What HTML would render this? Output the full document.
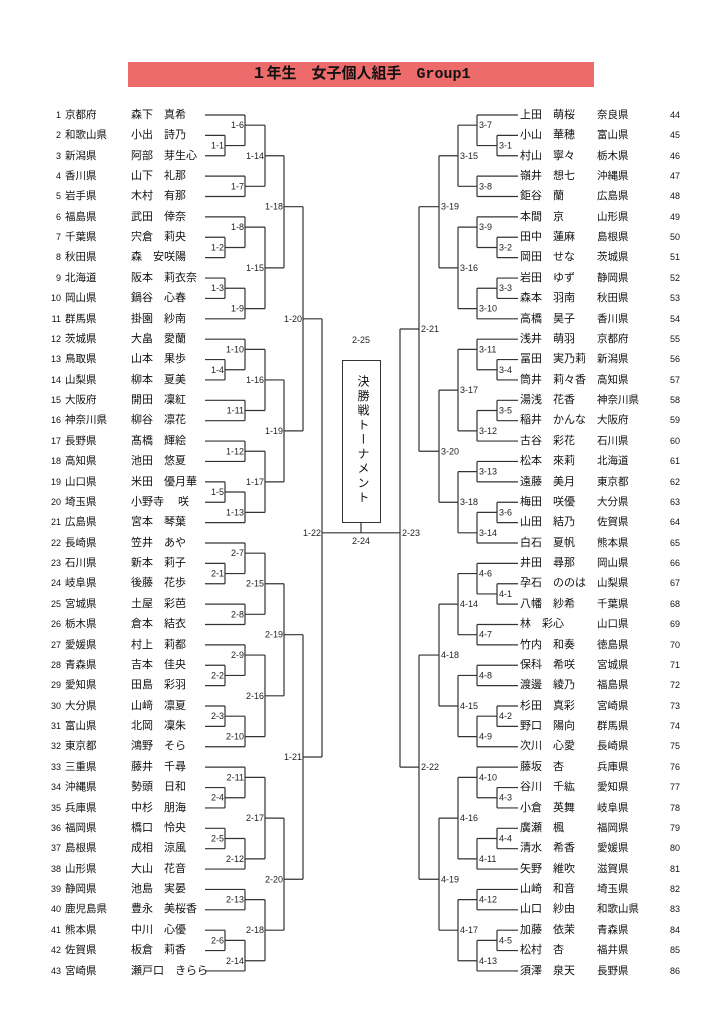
<!DOCTYPE html>
<html><head><meta charset="utf-8"><style>
body{margin:0;width:724px;height:1024px;background:#fff;position:relative;overflow:hidden;font-family:"Liberation Sans","Noto Sans CJK JP",sans-serif;color:#111}
#title{position:absolute;left:128px;top:62px;width:466px;height:25px;background:#ee6b6b;text-align:center;line-height:25px;font-weight:bold;font-size:15px;font-family:"Liberation Mono","Noto Sans CJK JP",monospace}
.col{position:absolute;left:0;top:104.8px;width:724px}
.r{position:relative;height:20.38px;line-height:20.38px;white-space:nowrap}
.r i{position:absolute;font-style:normal;font-size:9px;text-align:right}
.r b{position:absolute;font-weight:normal;font-size:10.5px}
.r u{position:absolute;text-decoration:none;font-size:11px}
.L i{left:0;width:61px}.L b{left:65px}.L u{left:131px}
.R i{left:600px;width:80px}.R b{left:597px}.R u{left:520px}
svg{position:absolute;left:0;top:0}
svg line{stroke:#333;stroke-width:1.2}
svg text{font-size:9px;fill:#222;font-family:"Liberation Sans",sans-serif}
#box{position:absolute;left:342px;top:360px;width:37px;height:161px;border:1.2px solid #333}
#box span{position:absolute;left:12px;top:14px;writing-mode:vertical-rl;font-size:12px;letter-spacing:2.5px}
</style></head><body>
<div id="title">１年生　女子個人組手　Group1</div>
<svg id="s" width="724" height="1024"><text x="361" y="343" text-anchor="middle">2-25</text><text x="361" y="544" text-anchor="middle">2-24</text></svg>
<div id="box"><span>決勝戦トーナメント</span></div>
<div class="col L">
<div class="r"><i>1</i><b>京都府</b><u>森下　真希</u></div>
<div class="r"><i>2</i><b>和歌山県</b><u>小出　詩乃</u></div>
<div class="r"><i>3</i><b>新潟県</b><u>阿部　芽生心</u></div>
<div class="r"><i>4</i><b>香川県</b><u>山下　礼那</u></div>
<div class="r"><i>5</i><b>岩手県</b><u>木村　有那</u></div>
<div class="r"><i>6</i><b>福島県</b><u>武田　倖奈</u></div>
<div class="r"><i>7</i><b>千葉県</b><u>宍倉　莉央</u></div>
<div class="r"><i>8</i><b>秋田県</b><u>森　安咲陽</u></div>
<div class="r"><i>9</i><b>北海道</b><u>阪本　莉衣奈</u></div>
<div class="r"><i>10</i><b>岡山県</b><u>鍋谷　心春</u></div>
<div class="r"><i>11</i><b>群馬県</b><u>掛園　紗南</u></div>
<div class="r"><i>12</i><b>茨城県</b><u>大畠　愛蘭</u></div>
<div class="r"><i>13</i><b>鳥取県</b><u>山本　果歩</u></div>
<div class="r"><i>14</i><b>山梨県</b><u>柳本　夏美</u></div>
<div class="r"><i>15</i><b>大阪府</b><u>開田　凜紅</u></div>
<div class="r"><i>16</i><b>神奈川県</b><u>柳谷　凛花</u></div>
<div class="r"><i>17</i><b>長野県</b><u>髙橋　輝絵</u></div>
<div class="r"><i>18</i><b>高知県</b><u>池田　悠夏</u></div>
<div class="r"><i>19</i><b>山口県</b><u>米田　優月華</u></div>
<div class="r"><i>20</i><b>埼玉県</b><u>小野寺　 咲</u></div>
<div class="r"><i>21</i><b>広島県</b><u>宮本　琴葉</u></div>
<div class="r"><i>22</i><b>長崎県</b><u>笠井　あや</u></div>
<div class="r"><i>23</i><b>石川県</b><u>新本　莉子</u></div>
<div class="r"><i>24</i><b>岐阜県</b><u>後藤　花歩</u></div>
<div class="r"><i>25</i><b>宮城県</b><u>土屋　彩芭</u></div>
<div class="r"><i>26</i><b>栃木県</b><u>倉本　結衣</u></div>
<div class="r"><i>27</i><b>愛媛県</b><u>村上　莉都</u></div>
<div class="r"><i>28</i><b>青森県</b><u>吉本　佳央</u></div>
<div class="r"><i>29</i><b>愛知県</b><u>田島　彩羽</u></div>
<div class="r"><i>30</i><b>大分県</b><u>山﨑　凛夏</u></div>
<div class="r"><i>31</i><b>富山県</b><u>北岡　凜朱</u></div>
<div class="r"><i>32</i><b>東京都</b><u>鴻野　そら</u></div>
<div class="r"><i>33</i><b>三重県</b><u>藤井　千尋</u></div>
<div class="r"><i>34</i><b>沖縄県</b><u>勢頭　日和</u></div>
<div class="r"><i>35</i><b>兵庫県</b><u>中杉　朋海</u></div>
<div class="r"><i>36</i><b>福岡県</b><u>橋口　怜央</u></div>
<div class="r"><i>37</i><b>島根県</b><u>成相　涼風</u></div>
<div class="r"><i>38</i><b>山形県</b><u>大山　花音</u></div>
<div class="r"><i>39</i><b>静岡県</b><u>池島　実晏</u></div>
<div class="r"><i>40</i><b>鹿児島県</b><u>豊永　美桜香</u></div>
<div class="r"><i>41</i><b>熊本県</b><u>中川　心優</u></div>
<div class="r"><i>42</i><b>佐賀県</b><u>板倉　莉香</u></div>
<div class="r"><i>43</i><b>宮崎県</b><u>瀬戸口　きらら</u></div>
</div>
<div class="col R">
<div class="r"><u>上田　萌桜</u><b>奈良県</b><i>44</i></div>
<div class="r"><u>小山　華穂</u><b>富山県</b><i>45</i></div>
<div class="r"><u>村山　寧々</u><b>栃木県</b><i>46</i></div>
<div class="r"><u>嶺井　想七</u><b>沖縄県</b><i>47</i></div>
<div class="r"><u>鉅谷　蘭</u><b>広島県</b><i>48</i></div>
<div class="r"><u>本間　京</u><b>山形県</b><i>49</i></div>
<div class="r"><u>田中　蓮麻</u><b>島根県</b><i>50</i></div>
<div class="r"><u>岡田　せな</u><b>茨城県</b><i>51</i></div>
<div class="r"><u>岩田　ゆず</u><b>静岡県</b><i>52</i></div>
<div class="r"><u>森本　羽南</u><b>秋田県</b><i>53</i></div>
<div class="r"><u>高橋　昊子</u><b>香川県</b><i>54</i></div>
<div class="r"><u>浅井　萌羽</u><b>京都府</b><i>55</i></div>
<div class="r"><u>冨田　実乃莉</u><b>新潟県</b><i>56</i></div>
<div class="r"><u>筒井　莉々香</u><b>高知県</b><i>57</i></div>
<div class="r"><u>湯浅　花香</u><b>神奈川県</b><i>58</i></div>
<div class="r"><u>稲井　かんな</u><b>大阪府</b><i>59</i></div>
<div class="r"><u>古谷　彩花</u><b>石川県</b><i>60</i></div>
<div class="r"><u>松本　來莉</u><b>北海道</b><i>61</i></div>
<div class="r"><u>遠藤　美月</u><b>東京都</b><i>62</i></div>
<div class="r"><u>梅田　咲優</u><b>大分県</b><i>63</i></div>
<div class="r"><u>山田　結乃</u><b>佐賀県</b><i>64</i></div>
<div class="r"><u>白石　夏帆</u><b>熊本県</b><i>65</i></div>
<div class="r"><u>井田　尋那</u><b>岡山県</b><i>66</i></div>
<div class="r"><u>孕石　ののは</u><b>山梨県</b><i>67</i></div>
<div class="r"><u>八幡　紗希</u><b>千葉県</b><i>68</i></div>
<div class="r"><u>林　彩心</u><b>山口県</b><i>69</i></div>
<div class="r"><u>竹内　和奏</u><b>徳島県</b><i>70</i></div>
<div class="r"><u>保科　希咲</u><b>宮城県</b><i>71</i></div>
<div class="r"><u>渡邊　綾乃</u><b>福島県</b><i>72</i></div>
<div class="r"><u>杉田　真彩</u><b>宮崎県</b><i>73</i></div>
<div class="r"><u>野口　陽向</u><b>群馬県</b><i>74</i></div>
<div class="r"><u>次川　心愛</u><b>長崎県</b><i>75</i></div>
<div class="r"><u>藤坂　杏</u><b>兵庫県</b><i>76</i></div>
<div class="r"><u>谷川　千紘</u><b>愛知県</b><i>77</i></div>
<div class="r"><u>小倉　英舞</u><b>岐阜県</b><i>78</i></div>
<div class="r"><u>廣瀬　楓</u><b>福岡県</b><i>79</i></div>
<div class="r"><u>清水　希香</u><b>愛媛県</b><i>80</i></div>
<div class="r"><u>矢野　維吹</u><b>滋賀県</b><i>81</i></div>
<div class="r"><u>山崎　和音</u><b>埼玉県</b><i>82</i></div>
<div class="r"><u>山口　紗由</u><b>和歌山県</b><i>83</i></div>
<div class="r"><u>加藤　依茉</u><b>青森県</b><i>84</i></div>
<div class="r"><u>松村　杏</u><b>福井県</b><i>85</i></div>
<div class="r"><u>須澤　泉天</u><b>長野県</b><i>86</i></div>
</div>
<script>
var P=20.38,Y=function(r){return 115+P*(r-1)};var s='';
function L(a,b,c,d){s+='<line x1="'+a+'" y1="'+b+'" x2="'+c+'" y2="'+d+'"/>';}
function T(x,y,t,an){s+='<text x="'+x+'" y="'+(y+3)+'" text-anchor="'+an+'">'+t+'</text>';}
function lf(r){return{x:205,r:r}} function rf(r){return{x:518,r:r}}
function lp(a,b,x,t,r){L(a.x,Y(a.r),x,Y(a.r));L(b.x,Y(b.r),x,Y(b.r));L(x,Y(a.r),x,Y(b.r));T(x-1,Y(r),t,'end');return{x:x,r:r}}
function rp(a,b,x,t,r){L(a.x,Y(a.r),x,Y(a.r));L(b.x,Y(b.r),x,Y(b.r));L(x,Y(a.r),x,Y(b.r));T(x+2,Y(r),t,'start');return{x:x,r:r}}
// left block1
var a=lp(lf(2),lf(3),225,'1-1',2.5);var b=lp(lf(1),a,245,'1-6',1.5);var c=lp(lf(4),lf(5),245,'1-7',4.5);var k14=lp(b,c,265,'1-14',3);
a=lp(lf(7),lf(8),225,'1-2',7.5);b=lp(lf(6),a,245,'1-8',6.5);a=lp(lf(9),lf(10),225,'1-3',9.5);c=lp(a,lf(11),245,'1-9',10.5);var k15=lp(b,c,265,'1-15',8.5);
var k18=lp(k14,k15,284,'1-18',5.5);
// block2
a=lp(lf(13),lf(14),225,'1-4',13.5);b=lp(lf(12),a,245,'1-10',12.5);c=lp(lf(15),lf(16),245,'1-11',15.5);var k16=lp(b,c,265,'1-16',14);
b=lp(lf(17),lf(18),245,'1-12',17.5);a=lp(lf(19),lf(20),225,'1-5',19.5);c=lp(a,lf(21),245,'1-13',20.5);var k17=lp(b,c,265,'1-17',19);
var k19=lp(k16,k17,284,'1-19',16.5);
var k20=lp(k18,k19,303,'1-20',11);
// block3
a=lp(lf(23),lf(24),225,'2-1',23.5);b=lp(lf(22),a,245,'2-7',22.5);c=lp(lf(25),lf(26),245,'2-8',25.5);var m15=lp(b,c,265,'2-15',24);
a=lp(lf(28),lf(29),225,'2-2',28.5);b=lp(lf(27),a,245,'2-9',27.5);a=lp(lf(30),lf(31),225,'2-3',30.5);c=lp(a,lf(32),245,'2-10',31.5);var m16=lp(b,c,265,'2-16',29.5);
var m19=lp(m15,m16,284,'2-19',26.5);
// block4
a=lp(lf(34),lf(35),225,'2-4',34.5);b=lp(lf(33),a,245,'2-11',33.5);a=lp(lf(36),lf(37),225,'2-5',36.5);c=lp(a,lf(38),245,'2-12',37.5);var m17=lp(b,c,265,'2-17',35.5);
b=lp(lf(39),lf(40),245,'2-13',39.5);a=lp(lf(41),lf(42),225,'2-6',41.5);c=lp(a,lf(43),245,'2-14',42.5);var m18=lp(b,c,265,'2-18',41);
var m20=lp(m17,m18,284,'2-20',38.5);
var k21=lp(m19,m20,303,'1-21',32.5);
L(303,Y(11),322,Y(11));L(303,Y(32.5),322,Y(32.5));L(322,Y(11),322,Y(32.5));T(321,Y(21.5),'1-22','end');
// right block1
a=rp(rf(2),rf(3),497,'3-1',2.5);b=rp(rf(1),a,477,'3-7',1.5);c=rp(rf(4),rf(5),477,'3-8',4.5);var r15=rp(b,c,458,'3-15',3);
a=rp(rf(7),rf(8),497,'3-2',7.5);b=rp(rf(6),a,477,'3-9',6.5);a=rp(rf(9),rf(10),497,'3-3',9.5);c=rp(a,rf(11),477,'3-10',10.5);var r16=rp(b,c,458,'3-16',8.5);
var r19=rp(r15,r16,439,'3-19',5.5);
// block2
a=rp(rf(13),rf(14),497,'3-4',13.5);b=rp(rf(12),a,477,'3-11',12.5);a=rp(rf(15),rf(16),497,'3-5',15.5);c=rp(a,rf(17),477,'3-12',16.5);var r17=rp(b,c,458,'3-17',14.5);
b=rp(rf(18),rf(19),477,'3-13',18.5);a=rp(rf(20),rf(21),497,'3-6',20.5);c=rp(a,rf(22),477,'3-14',21.5);var r18=rp(b,c,458,'3-18',20);
var r20=rp(r17,r18,439,'3-20',17.5);
var q21=rp(r19,r20,419,'2-21',11.5);
// block3
a=rp(rf(24),rf(25),497,'4-1',24.5);b=rp(rf(23),a,477,'4-6',23.5);c=rp(rf(26),rf(27),477,'4-7',26.5);var s14=rp(b,c,458,'4-14',25);
b=rp(rf(28),rf(29),477,'4-8',28.5);a=rp(rf(30),rf(31),497,'4-2',30.5);c=rp(a,rf(32),477,'4-9',31.5);var s15=rp(b,c,458,'4-15',30);
var s18=rp(s14,s15,439,'4-18',27.5);
// block4
a=rp(rf(34),rf(35),497,'4-3',34.5);b=rp(rf(33),a,477,'4-10',33.5);a=rp(rf(36),rf(37),497,'4-4',36.5);c=rp(a,rf(38),477,'4-11',37.5);var s16=rp(b,c,458,'4-16',35.5);
b=rp(rf(39),rf(40),477,'4-12',39.5);a=rp(rf(41),rf(42),497,'4-5',41.5);c=rp(a,rf(43),477,'4-13',42.5);var s17=rp(b,c,458,'4-17',41);
var s19=rp(s16,s17,439,'4-19',38.5);
var q22=rp(s18,s19,419,'2-22',33);
L(419,Y(11.5),400,Y(11.5));L(419,Y(33),400,Y(33));L(400,Y(11.5),400,Y(33));T(402,Y(21.5),'2-23','start');
L(322,Y(21.5),400,Y(21.5));L(361,523,361,Y(21.5));
document.getElementById('s').insertAdjacentHTML('beforeend',s);
</script>
</body></html>
